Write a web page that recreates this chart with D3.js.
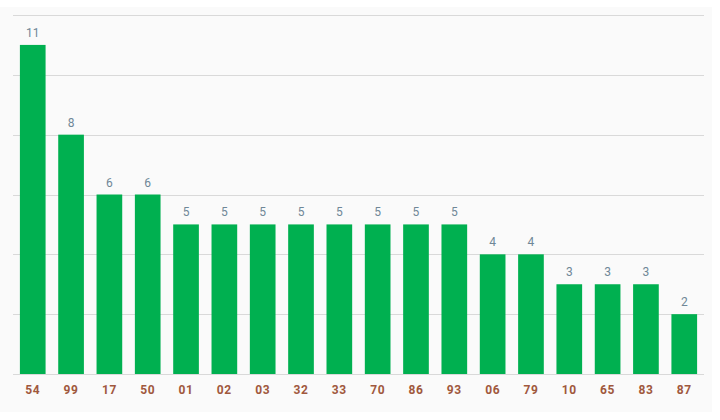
<!DOCTYPE html>
<html><head><meta charset="utf-8">
<script src="https://cdn.jsdelivr.net/npm/d3@7"></script>
<style>body{margin:0;background:#fff;}svg{display:block;font-family:Roboto,"Open Sans",sans-serif;}</style>
</head><body>
<svg id="c" width="720" height="420"></svg>
<script>
const categories = ["54","99","17","50","01","02","03","32","33","70","86","93","06","79","10","65","83","87"];
const values = [11,8,6,6,5,5,5,5,5,5,5,5,4,4,3,3,3,2];
const yTicks = [0,2,4,6,8,10,12];

(function(){
const svg = d3.select("#c");
svg.append("rect").attr("x",0).attr("y",7).attr("width",712).attr("height",405).attr("fill","#fafafa");

const mL = 13, mR = 704, mT = 15, mB = 374;
const x = d3.scaleBand().domain(categories).range([mL,mR]).paddingInner(0.33).paddingOuter(0.18);
const y = d3.scaleLinear().domain([0,12]).range([mB,mT]);

svg.append("g").selectAll("line").data(yTicks).join("line")
  .attr("x1",mL).attr("x2",mR)
  .attr("y1",d=>Math.round(y(d))+0.5).attr("y2",d=>Math.round(y(d))+0.5)
  .attr("stroke","#d9d9d9").attr("stroke-width",1);

svg.append("g").selectAll("rect").data(values).join("rect")
  .attr("x",(d,i)=>x(categories[i])).attr("width",x.bandwidth())
  .attr("y",d=>y(d)).attr("height",d=>mB-y(d))
  .attr("fill","#00b050");

svg.append("g").selectAll("text").data(values).join("text")
  .attr("x",(d,i)=>x(categories[i])+x.bandwidth()/2)
  .attr("y",d=>y(d)-8)
  .attr("text-anchor","middle").attr("font-size",12).attr("fill","#6f8797")
  .text(d=>d);

svg.append("g").selectAll("text").data(categories).join("text")
  .attr("x",d=>x(d)+x.bandwidth()/2).attr("y",394)
  .attr("text-anchor","middle").attr("font-size",12).attr("font-weight","bold")
  .attr("letter-spacing",0.6).attr("fill","#a0583d")
  .text(d=>d);
})();
</script>
</body></html>
